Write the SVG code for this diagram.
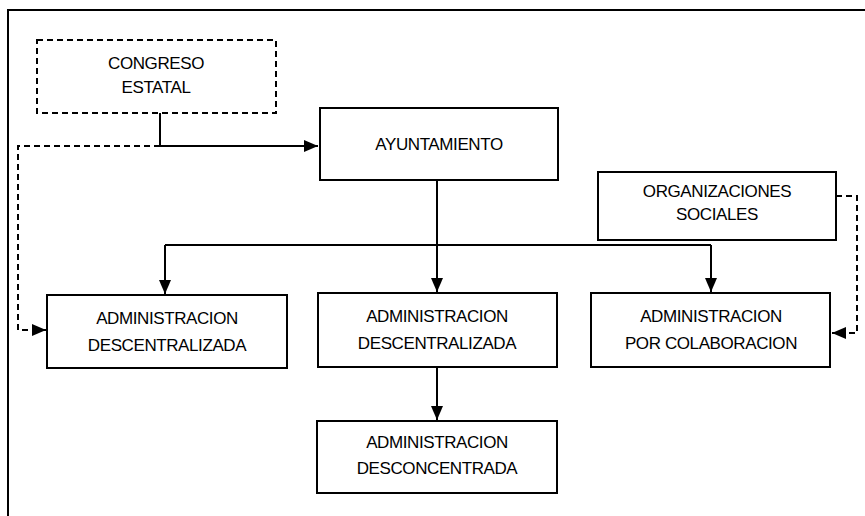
<svg xmlns="http://www.w3.org/2000/svg" width="865" height="516" viewBox="0 0 865 516">
<defs>
<marker id="ah" viewBox="0 0 14 12" refX="14" refY="6" markerWidth="14" markerHeight="12" markerUnits="userSpaceOnUse" orient="auto">
<path d="M0,0 L14,6 L0,12 Z" fill="#000"/>
</marker>
</defs>
<style>
.box{fill:#fff;stroke:#000;stroke-width:2}
.dbox{fill:#fff;stroke:#000;stroke-width:2;stroke-dasharray:6,4}
.ln{fill:none;stroke:#000;stroke-width:2}
.dln{fill:none;stroke:#000;stroke-width:2;stroke-dasharray:6,4}
text{font-family:"Liberation Sans",Arial,sans-serif;font-size:17px;letter-spacing:-0.4px;fill:#000;text-anchor:middle}
</style>
<rect width="865" height="516" fill="#fff"/>
<g id="frame">
<path class="ln" d="M8,516 L8,10 L865,10"/>
</g>
<g id="connectors">
<path class="ln" d="M160,113 L160,146 L318,146" marker-end="url(#ah)"/>
<path class="dln" d="M160,146 L18,146 L18,330 L46,330" marker-end="url(#ah)"/>
<path class="ln" d="M437,180 L437,292" marker-end="url(#ah)"/>
<path class="ln" d="M165,245 L711,245"/>
<path class="ln" d="M165,245 L165,294" marker-end="url(#ah)"/>
<path class="ln" d="M711,245 L711,292" marker-end="url(#ah)"/>
<path class="dln" d="M836,196 L857,196 L857,333 L832,333" marker-end="url(#ah)"/>
<path class="ln" d="M437,367 L437,420" marker-end="url(#ah)"/>
</g>
<g id="congreso">
<rect class="dbox" x="37" y="40" width="239" height="73"/>
<text x="156" y="69">CONGRESO</text>
<text x="156" y="93">ESTATAL</text>
</g>
<g id="ayuntamiento">
<rect class="box" x="320" y="108" width="238" height="72"/>
<text x="439" y="150">AYUNTAMIENTO</text>
</g>
<g id="organizaciones">
<rect class="box" x="598" y="172" width="238" height="68"/>
<text x="717" y="197">ORGANIZACIONES</text>
<text x="717" y="220">SOCIALES</text>
</g>
<g id="admin-desc-izq">
<rect class="box" x="47" y="295" width="240" height="73"/>
<text x="167" y="324">ADMINISTRACION</text>
<text x="167" y="351">DESCENTRALIZADA</text>
</g>
<g id="admin-desc-centro">
<rect class="box" x="318" y="293" width="239" height="74"/>
<text x="437" y="322">ADMINISTRACION</text>
<text x="437" y="349">DESCENTRALIZADA</text>
</g>
<g id="admin-colab">
<rect class="box" x="591" y="293" width="239" height="74"/>
<text x="711" y="322">ADMINISTRACION</text>
<text x="711" y="349">POR COLABORACION</text>
</g>
<g id="admin-desconc">
<rect class="box" x="317" y="421" width="240" height="72"/>
<text x="437" y="448">ADMINISTRACION</text>
<text x="437" y="474">DESCONCENTRADA</text>
</g>
</svg>
